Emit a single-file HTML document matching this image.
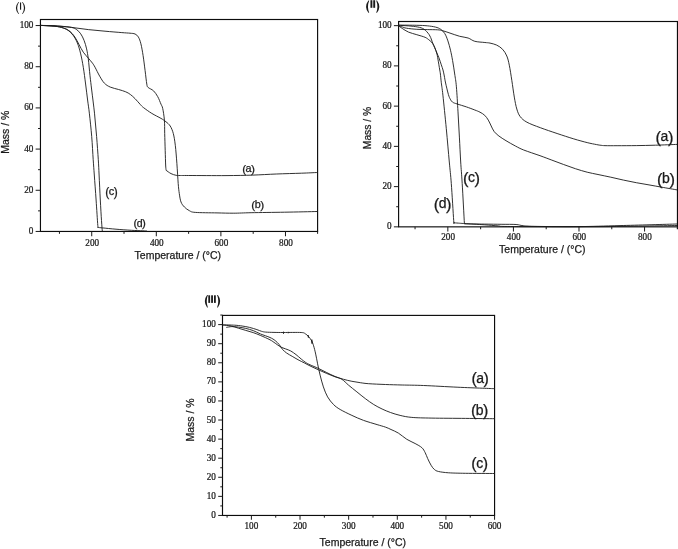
<!DOCTYPE html>
<html><head><meta charset="utf-8"><title>TGA</title>
<style>
html,body{margin:0;padding:0;background:#fff;}
body{width:678px;height:549px;overflow:hidden;font-family:"Liberation Sans", sans-serif;}
svg{display:block;will-change:transform;}
</style></head><body>
<svg width="678" height="549" viewBox="0 0 678 549">
<rect x="0" y="0" width="678" height="549" fill="#ffffff"/>
<rect x="40.45" y="19.50" width="277.15" height="211.95" fill="none" stroke="#0c0c0c" stroke-width="1.15"/>
<line x1="91.73" y1="231.45" x2="91.73" y2="236.25" stroke="#1a1a1a" stroke-width="1.0"/>
<text transform="translate(92.23 245.75) scale(0.93 1)" x="0" y="0" font-family='"Liberation Serif", serif' font-size="9.9" text-anchor="middle" font-weight="normal" fill="#1a1a1a" stroke="#1a1a1a" stroke-width="0.25" >200</text>
<line x1="156.31" y1="231.45" x2="156.31" y2="236.25" stroke="#1a1a1a" stroke-width="1.0"/>
<text transform="translate(156.81 245.75) scale(0.93 1)" x="0" y="0" font-family='"Liberation Serif", serif' font-size="9.9" text-anchor="middle" font-weight="normal" fill="#1a1a1a" stroke="#1a1a1a" stroke-width="0.25" >400</text>
<line x1="220.90" y1="231.45" x2="220.90" y2="236.25" stroke="#1a1a1a" stroke-width="1.0"/>
<text transform="translate(221.40 245.75) scale(0.93 1)" x="0" y="0" font-family='"Liberation Serif", serif' font-size="9.9" text-anchor="middle" font-weight="normal" fill="#1a1a1a" stroke="#1a1a1a" stroke-width="0.25" >600</text>
<line x1="285.48" y1="231.45" x2="285.48" y2="236.25" stroke="#1a1a1a" stroke-width="1.0"/>
<text transform="translate(285.98 245.75) scale(0.93 1)" x="0" y="0" font-family='"Liberation Serif", serif' font-size="9.9" text-anchor="middle" font-weight="normal" fill="#1a1a1a" stroke="#1a1a1a" stroke-width="0.25" >800</text>
<line x1="59.44" y1="231.45" x2="59.44" y2="233.85" stroke="#1a1a1a" stroke-width="1.0"/>
<line x1="124.02" y1="231.45" x2="124.02" y2="233.85" stroke="#1a1a1a" stroke-width="1.0"/>
<line x1="188.61" y1="231.45" x2="188.61" y2="233.85" stroke="#1a1a1a" stroke-width="1.0"/>
<line x1="253.19" y1="231.45" x2="253.19" y2="233.85" stroke="#1a1a1a" stroke-width="1.0"/>
<line x1="35.65" y1="231.45" x2="40.45" y2="231.45" stroke="#1a1a1a" stroke-width="1.0"/>
<text transform="translate(33.45 233.95) scale(0.93 1)" x="0" y="0" font-family='"Liberation Serif", serif' font-size="9.9" text-anchor="end" font-weight="normal" fill="#1a1a1a" stroke="#1a1a1a" stroke-width="0.25" >0</text>
<line x1="35.65" y1="190.27" x2="40.45" y2="190.27" stroke="#1a1a1a" stroke-width="1.0"/>
<text transform="translate(33.45 192.77) scale(0.93 1)" x="0" y="0" font-family='"Liberation Serif", serif' font-size="9.9" text-anchor="end" font-weight="normal" fill="#1a1a1a" stroke="#1a1a1a" stroke-width="0.25" >20</text>
<line x1="35.65" y1="149.09" x2="40.45" y2="149.09" stroke="#1a1a1a" stroke-width="1.0"/>
<text transform="translate(33.45 151.59) scale(0.93 1)" x="0" y="0" font-family='"Liberation Serif", serif' font-size="9.9" text-anchor="end" font-weight="normal" fill="#1a1a1a" stroke="#1a1a1a" stroke-width="0.25" >40</text>
<line x1="35.65" y1="107.91" x2="40.45" y2="107.91" stroke="#1a1a1a" stroke-width="1.0"/>
<text transform="translate(33.45 110.41) scale(0.93 1)" x="0" y="0" font-family='"Liberation Serif", serif' font-size="9.9" text-anchor="end" font-weight="normal" fill="#1a1a1a" stroke="#1a1a1a" stroke-width="0.25" >60</text>
<line x1="35.65" y1="66.73" x2="40.45" y2="66.73" stroke="#1a1a1a" stroke-width="1.0"/>
<text transform="translate(33.45 69.23) scale(0.93 1)" x="0" y="0" font-family='"Liberation Serif", serif' font-size="9.9" text-anchor="end" font-weight="normal" fill="#1a1a1a" stroke="#1a1a1a" stroke-width="0.25" >80</text>
<line x1="35.65" y1="25.55" x2="40.45" y2="25.55" stroke="#1a1a1a" stroke-width="1.0"/>
<text transform="translate(33.45 28.05) scale(0.93 1)" x="0" y="0" font-family='"Liberation Serif", serif' font-size="9.9" text-anchor="end" font-weight="normal" fill="#1a1a1a" stroke="#1a1a1a" stroke-width="0.25" >100</text>
<line x1="38.05" y1="210.86" x2="40.45" y2="210.86" stroke="#1a1a1a" stroke-width="1.0"/>
<line x1="38.05" y1="169.68" x2="40.45" y2="169.68" stroke="#1a1a1a" stroke-width="1.0"/>
<line x1="38.05" y1="128.50" x2="40.45" y2="128.50" stroke="#1a1a1a" stroke-width="1.0"/>
<line x1="38.05" y1="87.32" x2="40.45" y2="87.32" stroke="#1a1a1a" stroke-width="1.0"/>
<line x1="38.05" y1="46.14" x2="40.45" y2="46.14" stroke="#1a1a1a" stroke-width="1.0"/>
<line x1="317.60" y1="231.45" x2="317.60" y2="233.85" stroke="#1a1a1a" stroke-width="1.0"/>
<text x="177.80" y="259.10" font-family='"Liberation Sans", sans-serif' font-size="10.5" text-anchor="middle" font-weight="normal" fill="#1a1a1a" stroke="#1a1a1a" stroke-width="0.25" >Temperature / (°C)</text>
<text x="8.70" y="132.20" font-family='"Liberation Sans", sans-serif' font-size="10.5" text-anchor="middle" font-weight="normal" fill="#1a1a1a" stroke="#1a1a1a" stroke-width="0.25" transform="rotate(-90 8.7 132.2)">Mass / %</text>
<rect x="19.98" y="2.50" width="1.15" height="7.2" fill="#1a1a1a"/>
<path d="M18.40,1.90 Q13.40,7.95 18.40,14.00 L19.00,14.00 Q15.30,7.95 19.00,1.90 Z" fill="#1a1a1a"/>
<path d="M22.70,1.90 Q27.70,7.95 22.70,14.00 L22.10,14.00 Q25.80,7.95 22.10,1.90 Z" fill="#1a1a1a"/>
<rect x="398.60" y="21.50" width="278.85" height="205.35" fill="none" stroke="#0c0c0c" stroke-width="1.15"/>
<line x1="447.84" y1="226.85" x2="447.84" y2="231.55" stroke="#1a1a1a" stroke-width="1.0"/>
<text transform="translate(448.14 240.45) scale(0.93 1)" x="0" y="0" font-family='"Liberation Serif", serif' font-size="9.9" text-anchor="middle" font-weight="normal" fill="#1a1a1a" stroke="#1a1a1a" stroke-width="0.25" >200</text>
<line x1="513.42" y1="226.85" x2="513.42" y2="231.55" stroke="#1a1a1a" stroke-width="1.0"/>
<text transform="translate(513.72 240.45) scale(0.93 1)" x="0" y="0" font-family='"Liberation Serif", serif' font-size="9.9" text-anchor="middle" font-weight="normal" fill="#1a1a1a" stroke="#1a1a1a" stroke-width="0.25" >400</text>
<line x1="578.99" y1="226.85" x2="578.99" y2="231.55" stroke="#1a1a1a" stroke-width="1.0"/>
<text transform="translate(579.29 240.45) scale(0.93 1)" x="0" y="0" font-family='"Liberation Serif", serif' font-size="9.9" text-anchor="middle" font-weight="normal" fill="#1a1a1a" stroke="#1a1a1a" stroke-width="0.25" >600</text>
<line x1="644.57" y1="226.85" x2="644.57" y2="231.55" stroke="#1a1a1a" stroke-width="1.0"/>
<text transform="translate(644.87 240.45) scale(0.93 1)" x="0" y="0" font-family='"Liberation Serif", serif' font-size="9.9" text-anchor="middle" font-weight="normal" fill="#1a1a1a" stroke="#1a1a1a" stroke-width="0.25" >800</text>
<line x1="415.05" y1="226.85" x2="415.05" y2="229.25" stroke="#1a1a1a" stroke-width="1.0"/>
<line x1="480.63" y1="226.85" x2="480.63" y2="229.25" stroke="#1a1a1a" stroke-width="1.0"/>
<line x1="546.20" y1="226.85" x2="546.20" y2="229.25" stroke="#1a1a1a" stroke-width="1.0"/>
<line x1="611.78" y1="226.85" x2="611.78" y2="229.25" stroke="#1a1a1a" stroke-width="1.0"/>
<line x1="393.90" y1="226.85" x2="398.60" y2="226.85" stroke="#1a1a1a" stroke-width="1.0"/>
<text transform="translate(391.70 229.35) scale(0.93 1)" x="0" y="0" font-family='"Liberation Serif", serif' font-size="9.9" text-anchor="end" font-weight="normal" fill="#1a1a1a" stroke="#1a1a1a" stroke-width="0.25" >0</text>
<line x1="393.90" y1="186.61" x2="398.60" y2="186.61" stroke="#1a1a1a" stroke-width="1.0"/>
<text transform="translate(391.70 189.11) scale(0.93 1)" x="0" y="0" font-family='"Liberation Serif", serif' font-size="9.9" text-anchor="end" font-weight="normal" fill="#1a1a1a" stroke="#1a1a1a" stroke-width="0.25" >20</text>
<line x1="393.90" y1="146.37" x2="398.60" y2="146.37" stroke="#1a1a1a" stroke-width="1.0"/>
<text transform="translate(391.70 148.87) scale(0.93 1)" x="0" y="0" font-family='"Liberation Serif", serif' font-size="9.9" text-anchor="end" font-weight="normal" fill="#1a1a1a" stroke="#1a1a1a" stroke-width="0.25" >40</text>
<line x1="393.90" y1="106.13" x2="398.60" y2="106.13" stroke="#1a1a1a" stroke-width="1.0"/>
<text transform="translate(391.70 108.63) scale(0.93 1)" x="0" y="0" font-family='"Liberation Serif", serif' font-size="9.9" text-anchor="end" font-weight="normal" fill="#1a1a1a" stroke="#1a1a1a" stroke-width="0.25" >60</text>
<line x1="393.90" y1="65.89" x2="398.60" y2="65.89" stroke="#1a1a1a" stroke-width="1.0"/>
<text transform="translate(391.70 68.39) scale(0.93 1)" x="0" y="0" font-family='"Liberation Serif", serif' font-size="9.9" text-anchor="end" font-weight="normal" fill="#1a1a1a" stroke="#1a1a1a" stroke-width="0.25" >80</text>
<line x1="393.90" y1="25.65" x2="398.60" y2="25.65" stroke="#1a1a1a" stroke-width="1.0"/>
<text transform="translate(391.70 28.15) scale(0.93 1)" x="0" y="0" font-family='"Liberation Serif", serif' font-size="9.9" text-anchor="end" font-weight="normal" fill="#1a1a1a" stroke="#1a1a1a" stroke-width="0.25" >100</text>
<line x1="396.20" y1="206.73" x2="398.60" y2="206.73" stroke="#1a1a1a" stroke-width="1.0"/>
<line x1="396.20" y1="166.49" x2="398.60" y2="166.49" stroke="#1a1a1a" stroke-width="1.0"/>
<line x1="396.20" y1="126.25" x2="398.60" y2="126.25" stroke="#1a1a1a" stroke-width="1.0"/>
<line x1="396.20" y1="86.01" x2="398.60" y2="86.01" stroke="#1a1a1a" stroke-width="1.0"/>
<line x1="396.20" y1="45.77" x2="398.60" y2="45.77" stroke="#1a1a1a" stroke-width="1.0"/>
<line x1="677.45" y1="226.85" x2="677.45" y2="229.35" stroke="#1a1a1a" stroke-width="1.3"/>
<text x="542.30" y="253.40" font-family='"Liberation Sans", sans-serif' font-size="10.5" text-anchor="middle" font-weight="normal" fill="#1a1a1a" stroke="#1a1a1a" stroke-width="0.25" >Temperature / (°C)</text>
<text x="371.40" y="128.00" font-family='"Liberation Sans", sans-serif' font-size="10.3" text-anchor="middle" font-weight="normal" fill="#1a1a1a" stroke="#1a1a1a" stroke-width="0.25" transform="rotate(-90 371.4 128)">Mass / %</text>
<rect x="370.45" y="0.20" width="1.9" height="7.6" fill="#1a1a1a"/>
<rect x="373.25" y="0.20" width="1.9" height="7.6" fill="#1a1a1a"/>
<path d="M368.40,0.40 Q363.80,6.60 368.40,12.80 L369.20,12.80 Q366.80,6.60 369.20,0.40 Z" fill="#1a1a1a"/>
<path d="M377.00,0.40 Q381.60,6.60 377.00,12.80 L376.20,12.80 Q378.60,6.60 376.20,0.40 Z" fill="#1a1a1a"/>
<rect x="222.50" y="315.40" width="272.07" height="200.05" fill="none" stroke="#0c0c0c" stroke-width="1.15"/>
<line x1="251.40" y1="515.45" x2="251.40" y2="519.75" stroke="#1a1a1a" stroke-width="1.0"/>
<text transform="translate(251.40 528.75) scale(0.93 1)" x="0" y="0" font-family='"Liberation Serif", serif' font-size="9.9" text-anchor="middle" font-weight="normal" fill="#1a1a1a" stroke="#1a1a1a" stroke-width="0.25" >100</text>
<line x1="300.03" y1="515.45" x2="300.03" y2="519.75" stroke="#1a1a1a" stroke-width="1.0"/>
<text transform="translate(300.03 528.75) scale(0.93 1)" x="0" y="0" font-family='"Liberation Serif", serif' font-size="9.9" text-anchor="middle" font-weight="normal" fill="#1a1a1a" stroke="#1a1a1a" stroke-width="0.25" >200</text>
<line x1="348.67" y1="515.45" x2="348.67" y2="519.75" stroke="#1a1a1a" stroke-width="1.0"/>
<text transform="translate(348.67 528.75) scale(0.93 1)" x="0" y="0" font-family='"Liberation Serif", serif' font-size="9.9" text-anchor="middle" font-weight="normal" fill="#1a1a1a" stroke="#1a1a1a" stroke-width="0.25" >300</text>
<line x1="397.30" y1="515.45" x2="397.30" y2="519.75" stroke="#1a1a1a" stroke-width="1.0"/>
<text transform="translate(397.30 528.75) scale(0.93 1)" x="0" y="0" font-family='"Liberation Serif", serif' font-size="9.9" text-anchor="middle" font-weight="normal" fill="#1a1a1a" stroke="#1a1a1a" stroke-width="0.25" >400</text>
<line x1="445.94" y1="515.45" x2="445.94" y2="519.75" stroke="#1a1a1a" stroke-width="1.0"/>
<text transform="translate(445.94 528.75) scale(0.93 1)" x="0" y="0" font-family='"Liberation Serif", serif' font-size="9.9" text-anchor="middle" font-weight="normal" fill="#1a1a1a" stroke="#1a1a1a" stroke-width="0.25" >500</text>
<line x1="494.57" y1="515.45" x2="494.57" y2="519.75" stroke="#1a1a1a" stroke-width="1.0"/>
<text transform="translate(494.57 528.75) scale(0.93 1)" x="0" y="0" font-family='"Liberation Serif", serif' font-size="9.9" text-anchor="middle" font-weight="normal" fill="#1a1a1a" stroke="#1a1a1a" stroke-width="0.25" >600</text>
<line x1="227.08" y1="515.45" x2="227.08" y2="517.65" stroke="#1a1a1a" stroke-width="1.0"/>
<line x1="275.72" y1="515.45" x2="275.72" y2="517.65" stroke="#1a1a1a" stroke-width="1.0"/>
<line x1="324.35" y1="515.45" x2="324.35" y2="517.65" stroke="#1a1a1a" stroke-width="1.0"/>
<line x1="372.99" y1="515.45" x2="372.99" y2="517.65" stroke="#1a1a1a" stroke-width="1.0"/>
<line x1="421.62" y1="515.45" x2="421.62" y2="517.65" stroke="#1a1a1a" stroke-width="1.0"/>
<line x1="470.25" y1="515.45" x2="470.25" y2="517.65" stroke="#1a1a1a" stroke-width="1.0"/>
<line x1="218.20" y1="515.45" x2="222.50" y2="515.45" stroke="#1a1a1a" stroke-width="1.0"/>
<text transform="translate(215.90 517.95) scale(0.93 1)" x="0" y="0" font-family='"Liberation Serif", serif' font-size="9.9" text-anchor="end" font-weight="normal" fill="#1a1a1a" stroke="#1a1a1a" stroke-width="0.25" >0</text>
<line x1="218.20" y1="496.37" x2="222.50" y2="496.37" stroke="#1a1a1a" stroke-width="1.0"/>
<text transform="translate(215.90 498.87) scale(0.93 1)" x="0" y="0" font-family='"Liberation Serif", serif' font-size="9.9" text-anchor="end" font-weight="normal" fill="#1a1a1a" stroke="#1a1a1a" stroke-width="0.25" >10</text>
<line x1="218.20" y1="477.28" x2="222.50" y2="477.28" stroke="#1a1a1a" stroke-width="1.0"/>
<text transform="translate(215.90 479.78) scale(0.93 1)" x="0" y="0" font-family='"Liberation Serif", serif' font-size="9.9" text-anchor="end" font-weight="normal" fill="#1a1a1a" stroke="#1a1a1a" stroke-width="0.25" >20</text>
<line x1="218.20" y1="458.20" x2="222.50" y2="458.20" stroke="#1a1a1a" stroke-width="1.0"/>
<text transform="translate(215.90 460.70) scale(0.93 1)" x="0" y="0" font-family='"Liberation Serif", serif' font-size="9.9" text-anchor="end" font-weight="normal" fill="#1a1a1a" stroke="#1a1a1a" stroke-width="0.25" >30</text>
<line x1="218.20" y1="439.11" x2="222.50" y2="439.11" stroke="#1a1a1a" stroke-width="1.0"/>
<text transform="translate(215.90 441.61) scale(0.93 1)" x="0" y="0" font-family='"Liberation Serif", serif' font-size="9.9" text-anchor="end" font-weight="normal" fill="#1a1a1a" stroke="#1a1a1a" stroke-width="0.25" >40</text>
<line x1="218.20" y1="420.03" x2="222.50" y2="420.03" stroke="#1a1a1a" stroke-width="1.0"/>
<text transform="translate(215.90 422.53) scale(0.93 1)" x="0" y="0" font-family='"Liberation Serif", serif' font-size="9.9" text-anchor="end" font-weight="normal" fill="#1a1a1a" stroke="#1a1a1a" stroke-width="0.25" >50</text>
<line x1="218.20" y1="400.94" x2="222.50" y2="400.94" stroke="#1a1a1a" stroke-width="1.0"/>
<text transform="translate(215.90 403.44) scale(0.93 1)" x="0" y="0" font-family='"Liberation Serif", serif' font-size="9.9" text-anchor="end" font-weight="normal" fill="#1a1a1a" stroke="#1a1a1a" stroke-width="0.25" >60</text>
<line x1="218.20" y1="381.86" x2="222.50" y2="381.86" stroke="#1a1a1a" stroke-width="1.0"/>
<text transform="translate(215.90 384.36) scale(0.93 1)" x="0" y="0" font-family='"Liberation Serif", serif' font-size="9.9" text-anchor="end" font-weight="normal" fill="#1a1a1a" stroke="#1a1a1a" stroke-width="0.25" >70</text>
<line x1="218.20" y1="362.77" x2="222.50" y2="362.77" stroke="#1a1a1a" stroke-width="1.0"/>
<text transform="translate(215.90 365.27) scale(0.93 1)" x="0" y="0" font-family='"Liberation Serif", serif' font-size="9.9" text-anchor="end" font-weight="normal" fill="#1a1a1a" stroke="#1a1a1a" stroke-width="0.25" >80</text>
<line x1="218.20" y1="343.69" x2="222.50" y2="343.69" stroke="#1a1a1a" stroke-width="1.0"/>
<text transform="translate(215.90 346.19) scale(0.93 1)" x="0" y="0" font-family='"Liberation Serif", serif' font-size="9.9" text-anchor="end" font-weight="normal" fill="#1a1a1a" stroke="#1a1a1a" stroke-width="0.25" >90</text>
<line x1="218.20" y1="324.60" x2="222.50" y2="324.60" stroke="#1a1a1a" stroke-width="1.0"/>
<text transform="translate(215.90 327.10) scale(0.93 1)" x="0" y="0" font-family='"Liberation Serif", serif' font-size="9.9" text-anchor="end" font-weight="normal" fill="#1a1a1a" stroke="#1a1a1a" stroke-width="0.25" >100</text>
<line x1="220.30" y1="505.91" x2="222.50" y2="505.91" stroke="#1a1a1a" stroke-width="1.0"/>
<line x1="220.30" y1="486.82" x2="222.50" y2="486.82" stroke="#1a1a1a" stroke-width="1.0"/>
<line x1="220.30" y1="467.74" x2="222.50" y2="467.74" stroke="#1a1a1a" stroke-width="1.0"/>
<line x1="220.30" y1="448.65" x2="222.50" y2="448.65" stroke="#1a1a1a" stroke-width="1.0"/>
<line x1="220.30" y1="429.57" x2="222.50" y2="429.57" stroke="#1a1a1a" stroke-width="1.0"/>
<line x1="220.30" y1="410.48" x2="222.50" y2="410.48" stroke="#1a1a1a" stroke-width="1.0"/>
<line x1="220.30" y1="391.40" x2="222.50" y2="391.40" stroke="#1a1a1a" stroke-width="1.0"/>
<line x1="220.30" y1="372.31" x2="222.50" y2="372.31" stroke="#1a1a1a" stroke-width="1.0"/>
<line x1="220.30" y1="353.23" x2="222.50" y2="353.23" stroke="#1a1a1a" stroke-width="1.0"/>
<line x1="220.30" y1="334.14" x2="222.50" y2="334.14" stroke="#1a1a1a" stroke-width="1.0"/>
<line x1="220.30" y1="315.06" x2="222.50" y2="315.06" stroke="#1a1a1a" stroke-width="1.0"/>
<text x="362.85" y="545.50" font-family='"Liberation Sans", sans-serif' font-size="10.5" text-anchor="middle" font-weight="normal" fill="#1a1a1a" stroke="#1a1a1a" stroke-width="0.25" >Temperature / (°C)</text>
<text x="193.80" y="420.00" font-family='"Liberation Sans", sans-serif' font-size="10.5" text-anchor="middle" font-weight="normal" fill="#1a1a1a" stroke="#1a1a1a" stroke-width="0.25" transform="rotate(-90 193.8 420)">Mass / %</text>
<rect x="208.30" y="295.30" width="1.8" height="7.6" fill="#1a1a1a"/>
<rect x="211.15" y="295.30" width="1.8" height="7.6" fill="#1a1a1a"/>
<rect x="214.00" y="295.30" width="1.8" height="7.6" fill="#1a1a1a"/>
<path d="M207.10,295.10 Q202.50,301.30 207.10,307.50 L207.90,307.50 Q205.50,301.30 207.90,295.10 Z" fill="#1a1a1a"/>
<path d="M217.90,295.10 Q222.50,301.30 217.90,307.50 L217.10,307.50 Q219.50,301.30 217.10,295.10 Z" fill="#1a1a1a"/>
<path d="M40.50,25.40 C42.92,25.47 49.83,25.47 55.00,25.80 C60.17,26.13 65.95,26.77 71.50,27.40 C77.05,28.03 82.72,28.97 88.30,29.60 C93.88,30.23 99.42,30.70 105.00,31.20 C110.58,31.70 117.63,32.27 121.80,32.60 C125.97,32.93 127.80,32.97 130.00,33.20 C132.20,33.43 133.60,33.35 135.00,34.00 C136.40,34.65 137.42,35.47 138.40,37.10 C139.38,38.73 140.12,40.72 140.90,43.80 C141.68,46.88 142.40,51.13 143.10,55.60 C143.80,60.07 144.48,65.85 145.10,70.60 C145.72,75.35 146.30,81.30 146.80,84.10 C147.30,86.90 146.98,86.28 148.10,87.40 C149.22,88.52 151.90,89.27 153.50,90.80 C155.10,92.33 156.45,94.37 157.70,96.60 C158.95,98.83 160.17,102.23 161.00,104.20 C161.83,106.17 162.13,105.75 162.70,108.40 C163.27,111.05 164.07,115.92 164.40,120.10 C164.73,124.28 164.57,128.47 164.70,133.50 C164.83,138.53 165.04,145.05 165.20,150.30 C165.36,155.55 165.50,161.67 165.65,165.00 C165.80,168.33 166.03,169.42 166.10,170.30 C166.92,170.85 169.37,172.78 171.00,173.60 C172.63,174.42 174.40,174.93 175.90,175.25 C177.40,175.57 177.87,175.46 180.00,175.50 C182.13,175.54 181.03,175.48 188.70,175.50 C196.37,175.52 215.32,175.67 226.00,175.60 C236.68,175.53 244.42,175.37 252.80,175.10 C261.18,174.83 268.20,174.32 276.30,174.00 C284.40,173.68 294.55,173.45 301.40,173.20 C308.25,172.95 314.73,172.62 317.40,172.50" fill="none" stroke="#1a1a1a" stroke-width="0.9" stroke-linejoin="round" stroke-linecap="butt"/>
<path d="M40.50,25.40 C42.88,25.53 51.03,25.78 54.80,26.20 C58.57,26.62 60.60,27.07 63.10,27.90 C65.60,28.73 67.83,29.67 69.80,31.20 C71.77,32.73 73.35,34.85 74.90,37.10 C76.45,39.35 77.70,42.18 79.10,44.70 C80.50,47.22 81.77,49.97 83.30,52.20 C84.83,54.43 86.77,56.27 88.30,58.10 C89.83,59.93 91.38,61.68 92.50,63.20 C93.62,64.72 93.80,65.03 95.00,67.20 C96.20,69.37 98.13,73.53 99.70,76.20 C101.27,78.87 102.63,81.38 104.40,83.20 C106.17,85.02 107.93,86.05 110.30,87.10 C112.67,88.15 116.03,88.72 118.60,89.50 C121.17,90.28 123.73,90.97 125.70,91.80 C127.67,92.63 128.83,93.35 130.40,94.50 C131.97,95.65 133.43,97.02 135.10,98.70 C136.77,100.38 139.00,103.12 140.40,104.60 C141.80,106.08 141.60,106.13 143.50,107.60 C145.40,109.07 148.88,111.60 151.80,113.40 C154.72,115.20 158.63,117.00 161.00,118.40 C163.37,119.80 164.47,120.53 166.00,121.80 C167.53,123.07 168.98,124.05 170.20,126.00 C171.42,127.95 172.45,130.28 173.30,133.50 C174.15,136.72 174.70,140.27 175.30,145.30 C175.90,150.33 176.42,157.33 176.90,163.70 C177.38,170.07 177.80,178.52 178.20,183.50 C178.60,188.48 178.83,190.52 179.30,193.60 C179.77,196.68 180.15,199.77 181.00,202.00 C181.85,204.23 183.00,205.55 184.40,207.00 C185.80,208.45 187.58,209.80 189.40,210.70 C191.22,211.60 190.70,212.03 195.30,212.40 C199.90,212.77 210.58,212.77 217.00,212.90 C223.42,213.03 228.12,213.23 233.80,213.20 C239.48,213.17 242.62,212.87 251.10,212.70 C259.58,212.53 273.65,212.40 284.70,212.20 C295.75,212.00 311.95,211.62 317.40,211.50" fill="none" stroke="#1a1a1a" stroke-width="0.9" stroke-linejoin="round" stroke-linecap="butt"/>
<path d="M40.50,25.40 C43.75,25.53 54.83,25.87 60.00,26.20 C65.17,26.53 68.73,26.83 71.50,27.40 C74.27,27.97 75.07,28.53 76.60,29.60 C78.13,30.67 79.45,31.98 80.70,33.80 C81.95,35.62 83.12,37.98 84.10,40.50 C85.08,43.02 85.90,45.83 86.60,48.90 C87.30,51.97 87.73,54.43 88.30,58.90 C88.87,63.37 89.43,70.52 90.00,75.70 C90.57,80.88 90.95,83.75 91.70,90.00 C92.45,96.25 93.68,105.47 94.50,113.20 C95.32,120.93 95.97,128.65 96.60,136.40 C97.23,144.15 97.88,153.27 98.30,159.70 C98.72,166.13 98.77,168.28 99.10,175.00 C99.43,181.72 99.90,192.40 100.30,200.00 C100.70,207.60 101.17,215.43 101.50,220.60 C101.83,225.77 102.17,229.27 102.30,231.00" fill="none" stroke="#1a1a1a" stroke-width="0.9" stroke-linejoin="round" stroke-linecap="butt"/>
<path d="M40.50,25.40 C42.88,25.53 51.03,25.78 54.80,26.20 C58.57,26.62 60.87,27.20 63.10,27.90 C65.33,28.60 66.52,29.15 68.20,30.40 C69.88,31.65 71.67,33.30 73.20,35.40 C74.73,37.50 76.15,39.92 77.40,43.00 C78.65,46.08 79.72,49.85 80.70,53.90 C81.68,57.95 82.48,62.28 83.30,67.30 C84.12,72.32 84.88,78.55 85.60,84.00 C86.32,89.45 86.97,95.13 87.60,100.00 C88.22,104.87 88.67,107.13 89.35,113.20 C90.03,119.27 91.06,128.65 91.70,136.40 C92.34,144.15 92.77,153.27 93.20,159.70 C93.63,166.13 93.82,168.28 94.30,175.00 C94.78,181.72 95.52,191.58 96.10,200.00 C96.68,208.42 97.45,221.00 97.80,225.50 C98.15,230.00 97.97,226.66 98.20,227.00 C98.43,227.34 98.47,227.40 99.20,227.55 C99.93,227.70 99.80,227.62 102.60,227.90 C105.40,228.18 111.18,228.80 116.00,229.20 C120.82,229.60 127.03,230.03 131.50,230.30 C135.97,230.57 140.22,230.68 142.80,230.80 C145.38,230.92 146.30,230.97 147.00,231.00" fill="none" stroke="#1a1a1a" stroke-width="0.9" stroke-linejoin="round" stroke-linecap="butt"/>
<text x="248.60" y="171.60" font-family='"Liberation Sans", sans-serif' font-size="10.8" text-anchor="middle" font-weight="normal" fill="#1a1a1a" stroke="#1a1a1a" stroke-width="0.25" >a</text>
<text x="246.10" y="172.50" font-family='"Liberation Sans", sans-serif' font-size="11.8" text-anchor="end" font-weight="normal" fill="#1a1a1a" stroke="#1a1a1a" stroke-width="0.25" >(</text>
<text x="251.10" y="172.50" font-family='"Liberation Sans", sans-serif' font-size="11.8" text-anchor="start" font-weight="normal" fill="#1a1a1a" stroke="#1a1a1a" stroke-width="0.25" >)</text>
<text x="257.70" y="208.00" font-family='"Liberation Sans", sans-serif' font-size="10.8" text-anchor="middle" font-weight="normal" fill="#1a1a1a" stroke="#1a1a1a" stroke-width="0.25" >b</text>
<text x="255.10" y="208.90" font-family='"Liberation Sans", sans-serif' font-size="11.8" text-anchor="end" font-weight="normal" fill="#1a1a1a" stroke="#1a1a1a" stroke-width="0.25" >(</text>
<text x="260.30" y="208.90" font-family='"Liberation Sans", sans-serif' font-size="11.8" text-anchor="start" font-weight="normal" fill="#1a1a1a" stroke="#1a1a1a" stroke-width="0.25" >)</text>
<text x="111.40" y="194.90" font-family='"Liberation Sans", sans-serif' font-size="11" text-anchor="middle" font-weight="normal" fill="#1a1a1a" stroke="#1a1a1a" stroke-width="0.25" >c</text>
<text x="109.15" y="195.80" font-family='"Liberation Sans", sans-serif' font-size="12" text-anchor="end" font-weight="normal" fill="#1a1a1a" stroke="#1a1a1a" stroke-width="0.25" >(</text>
<text x="113.65" y="195.80" font-family='"Liberation Sans", sans-serif' font-size="12" text-anchor="start" font-weight="normal" fill="#1a1a1a" stroke="#1a1a1a" stroke-width="0.25" >)</text>
<text x="139.60" y="226.50" font-family='"Liberation Sans", sans-serif' font-size="10.5" text-anchor="middle" font-weight="normal" fill="#1a1a1a" stroke="#1a1a1a" stroke-width="0.25" >d</text>
<text x="137.28" y="227.40" font-family='"Liberation Sans", sans-serif' font-size="11.5" text-anchor="end" font-weight="normal" fill="#1a1a1a" stroke="#1a1a1a" stroke-width="0.25" >(</text>
<text x="141.92" y="227.40" font-family='"Liberation Sans", sans-serif' font-size="11.5" text-anchor="start" font-weight="normal" fill="#1a1a1a" stroke="#1a1a1a" stroke-width="0.25" >)</text>
<path d="M398.60,25.80 C399.20,25.98 400.90,26.50 402.20,26.90 C403.50,27.30 403.97,27.80 406.40,28.20 C408.83,28.60 413.33,29.07 416.80,29.30 C420.27,29.53 423.75,29.52 427.20,29.60 C430.65,29.68 434.92,29.62 437.50,29.80 C440.08,29.98 440.62,30.15 442.70,30.70 C444.78,31.25 447.17,32.17 450.00,33.10 C452.83,34.03 456.68,35.48 459.70,36.30 C462.72,37.12 465.58,37.17 468.10,38.00 C470.62,38.83 472.00,40.55 474.80,41.30 C477.60,42.05 482.37,42.20 484.90,42.50 C487.43,42.80 488.03,42.67 490.00,43.10 C491.97,43.53 494.60,44.07 496.70,45.10 C498.80,46.13 500.92,47.48 502.60,49.30 C504.28,51.12 505.68,53.35 506.80,56.00 C507.92,58.65 508.47,61.15 509.30,65.20 C510.13,69.25 510.97,74.98 511.80,80.30 C512.63,85.62 513.47,92.32 514.30,97.10 C515.13,101.88 515.82,105.75 516.80,109.00 C517.78,112.25 518.52,114.40 520.20,116.60 C521.88,118.80 523.55,120.35 526.90,122.20 C530.25,124.05 535.27,125.82 540.30,127.70 C545.33,129.58 551.52,131.63 557.10,133.50 C562.68,135.37 568.78,137.38 573.80,138.90 C578.82,140.42 583.40,141.65 587.20,142.60 C591.00,143.55 594.30,144.15 596.60,144.60 C598.90,145.05 599.60,145.12 601.00,145.30 C602.40,145.48 602.32,145.58 605.00,145.65 C607.68,145.72 611.88,145.71 617.10,145.70 C622.32,145.69 629.92,145.68 636.30,145.60 C642.68,145.52 648.60,145.40 655.40,145.20 C662.20,145.00 673.48,144.53 677.10,144.40" fill="none" stroke="#1a1a1a" stroke-width="0.9" stroke-linejoin="round" stroke-linecap="butt"/>
<path d="M398.60,25.80 C399.20,26.23 400.55,27.35 402.20,28.40 C403.85,29.45 406.07,31.05 408.50,32.10 C410.93,33.15 414.03,33.83 416.80,34.70 C419.57,35.57 423.05,36.42 425.10,37.30 C427.15,38.18 428.12,39.27 429.10,40.00 C430.08,40.73 430.38,41.10 431.00,41.70 C431.62,42.30 432.17,42.60 432.80,43.60 C433.43,44.60 434.12,46.13 434.80,47.70 C435.48,49.27 436.22,51.33 436.90,53.00 C437.58,54.67 438.17,55.73 438.90,57.70 C439.63,59.67 440.62,62.75 441.30,64.80 C441.98,66.85 442.50,68.13 443.00,70.00 C443.50,71.87 443.87,73.83 444.30,76.00 C444.73,78.17 444.92,79.92 445.60,83.00 C446.28,86.08 447.62,91.80 448.40,94.50 C449.18,97.20 449.60,97.92 450.30,99.20 C451.00,100.48 451.47,101.41 452.60,102.20 C453.73,102.99 454.80,103.17 457.10,103.95 C459.40,104.73 463.45,105.89 466.40,106.90 C469.35,107.91 472.53,109.12 474.80,110.00 C477.07,110.88 478.35,111.32 480.00,112.20 C481.65,113.08 483.32,113.98 484.70,115.30 C486.08,116.62 487.22,118.32 488.30,120.10 C489.38,121.88 490.22,124.08 491.20,126.00 C492.18,127.92 492.92,129.93 494.20,131.60 C495.48,133.27 496.93,134.48 498.90,136.00 C500.87,137.52 503.25,139.03 506.00,140.70 C508.75,142.37 512.45,144.45 515.40,146.00 C518.35,147.55 519.60,148.38 523.70,150.00 C527.80,151.62 535.32,154.02 540.00,155.70 C544.68,157.38 547.87,158.63 551.80,160.10 C555.73,161.57 559.67,163.07 563.60,164.50 C567.53,165.93 571.47,167.42 575.40,168.70 C579.33,169.98 583.43,171.23 587.20,172.20 C590.97,173.17 594.07,173.67 598.00,174.50 C601.93,175.33 606.55,176.27 610.80,177.20 C615.05,178.13 619.25,179.18 623.50,180.10 C627.75,181.02 632.05,181.90 636.30,182.70 C640.55,183.50 644.75,184.15 649.00,184.90 C653.25,185.65 657.12,186.37 661.80,187.20 C666.48,188.03 674.55,189.45 677.10,189.90" fill="none" stroke="#1a1a1a" stroke-width="0.9" stroke-linejoin="round" stroke-linecap="butt"/>
<path d="M398.60,25.10 C401.63,25.13 412.03,25.18 416.80,25.30 C421.57,25.42 424.08,25.50 427.20,25.80 C430.32,26.10 433.25,26.52 435.50,27.10 C437.75,27.68 439.15,28.22 440.70,29.30 C442.25,30.38 443.60,31.67 444.80,33.60 C446.00,35.53 446.95,38.13 447.90,40.90 C448.85,43.67 449.72,46.92 450.50,50.20 C451.28,53.48 451.90,56.63 452.60,60.60 C453.30,64.57 454.07,69.63 454.70,74.00 C455.33,78.37 455.85,80.48 456.40,86.80 C456.95,93.12 457.50,103.52 458.00,111.90 C458.50,120.28 458.95,128.75 459.40,137.10 C459.85,145.45 460.23,154.27 460.70,162.00 C461.17,169.73 461.58,173.20 462.20,183.50 C462.82,193.80 464.03,217.08 464.40,223.80 C467.70,223.85 477.95,224.02 484.20,224.10 C490.45,224.18 496.58,224.23 501.90,224.30 C507.22,224.37 512.55,224.27 516.10,224.50 C519.65,224.73 519.67,225.38 523.20,225.70 C526.73,226.02 528.00,226.25 537.30,226.40 C546.60,226.55 565.22,226.73 579.00,226.60 C592.78,226.47 603.67,226.03 620.00,225.60 C636.33,225.17 667.50,224.27 677.00,224.00" fill="none" stroke="#1a1a1a" stroke-width="0.9" stroke-linejoin="round" stroke-linecap="butt"/>
<path d="M398.60,25.30 C400.25,25.40 405.30,25.62 408.50,25.90 C411.70,26.18 415.22,26.45 417.80,27.00 C420.38,27.55 422.10,27.92 424.00,29.20 C425.90,30.48 427.93,32.90 429.20,34.70 C430.47,36.50 431.00,38.53 431.60,40.00 C432.20,41.47 432.28,42.22 432.80,43.50 C433.32,44.78 434.05,46.12 434.70,47.70 C435.35,49.28 436.20,51.33 436.70,53.00 C437.20,54.67 437.33,55.73 437.70,57.70 C438.07,59.67 438.56,62.75 438.90,64.80 C439.24,66.85 439.50,68.47 439.75,70.00 C440.00,71.53 440.14,71.88 440.40,74.00 C440.66,76.12 440.88,79.18 441.30,82.70 C441.72,86.22 442.07,87.43 442.90,95.10 C443.73,102.77 445.23,117.55 446.30,128.70 C447.37,139.85 448.47,152.87 449.30,162.00 C450.13,171.13 450.57,173.75 451.30,183.50 C452.03,193.25 453.23,214.05 453.70,220.50 C454.17,226.95 453.90,221.81 454.15,222.20 C454.40,222.59 454.56,222.70 455.20,222.85 C455.84,223.00 456.40,222.97 458.00,223.10 C459.60,223.22 460.43,223.32 464.80,223.60 C469.17,223.88 478.60,224.42 484.20,224.80 C489.80,225.18 493.97,225.62 498.40,225.90 C502.83,226.18 493.87,226.38 510.80,226.50 C527.73,226.62 572.30,226.77 600.00,226.60 C627.70,226.43 664.17,225.68 677.00,225.50" fill="none" stroke="#1a1a1a" stroke-width="0.9" stroke-linejoin="round" stroke-linecap="butt"/>
<text x="664.50" y="141.30" font-family='"Liberation Sans", sans-serif' font-size="14" text-anchor="middle" font-weight="normal" fill="#1a1a1a" stroke="#1a1a1a" stroke-width="0.25" >a</text>
<text x="661.11" y="143.30" font-family='"Liberation Sans", sans-serif' font-size="16.5" text-anchor="end" font-weight="normal" fill="#1a1a1a" stroke="#1a1a1a" stroke-width="0.25" >(</text>
<text x="667.89" y="143.30" font-family='"Liberation Sans", sans-serif' font-size="16.5" text-anchor="start" font-weight="normal" fill="#1a1a1a" stroke="#1a1a1a" stroke-width="0.25" >)</text>
<text x="666.00" y="182.70" font-family='"Liberation Sans", sans-serif' font-size="14" text-anchor="middle" font-weight="normal" fill="#1a1a1a" stroke="#1a1a1a" stroke-width="0.25" >b</text>
<text x="662.61" y="184.70" font-family='"Liberation Sans", sans-serif' font-size="16.5" text-anchor="end" font-weight="normal" fill="#1a1a1a" stroke="#1a1a1a" stroke-width="0.25" >(</text>
<text x="669.39" y="184.70" font-family='"Liberation Sans", sans-serif' font-size="16.5" text-anchor="start" font-weight="normal" fill="#1a1a1a" stroke="#1a1a1a" stroke-width="0.25" >)</text>
<text x="471.60" y="181.60" font-family='"Liberation Sans", sans-serif' font-size="14" text-anchor="middle" font-weight="normal" fill="#1a1a1a" stroke="#1a1a1a" stroke-width="0.25" >c</text>
<text x="468.60" y="183.60" font-family='"Liberation Sans", sans-serif' font-size="16.5" text-anchor="end" font-weight="normal" fill="#1a1a1a" stroke="#1a1a1a" stroke-width="0.25" >(</text>
<text x="474.60" y="183.60" font-family='"Liberation Sans", sans-serif' font-size="16.5" text-anchor="start" font-weight="normal" fill="#1a1a1a" stroke="#1a1a1a" stroke-width="0.25" >)</text>
<text x="442.60" y="207.70" font-family='"Liberation Sans", sans-serif' font-size="14" text-anchor="middle" font-weight="normal" fill="#1a1a1a" stroke="#1a1a1a" stroke-width="0.25" >d</text>
<text x="439.21" y="209.70" font-family='"Liberation Sans", sans-serif' font-size="16.5" text-anchor="end" font-weight="normal" fill="#1a1a1a" stroke="#1a1a1a" stroke-width="0.25" >(</text>
<text x="445.99" y="209.70" font-family='"Liberation Sans", sans-serif' font-size="16.5" text-anchor="start" font-weight="normal" fill="#1a1a1a" stroke="#1a1a1a" stroke-width="0.25" >)</text>
<path d="M222.60,325.00 C224.02,325.17 228.47,325.47 231.10,326.00 C233.73,326.53 235.95,327.47 238.40,328.20 C240.85,328.93 243.33,329.67 245.80,330.40 C248.27,331.13 250.73,331.75 253.20,332.60 C255.67,333.45 257.80,334.30 260.60,335.50 C263.40,336.70 267.57,338.52 270.00,339.80 C272.43,341.08 273.47,342.03 275.20,343.20 C276.93,344.37 278.67,345.85 280.40,346.80 C282.13,347.75 283.87,348.20 285.60,348.90 C287.33,349.60 289.07,350.05 290.80,351.00 C292.53,351.95 294.27,353.27 296.00,354.60 C297.73,355.93 299.65,357.73 301.20,359.00 C302.75,360.27 303.83,361.23 305.30,362.20 C306.77,363.17 307.82,363.77 310.00,364.80 C312.18,365.83 315.60,367.10 318.40,368.40 C321.20,369.70 324.02,371.25 326.80,372.60 C329.58,373.95 332.32,375.38 335.10,376.50 C337.88,377.62 340.70,378.50 343.50,379.30 C346.30,380.10 349.10,380.73 351.90,381.30 C354.70,381.87 357.50,382.30 360.30,382.70 C363.10,383.10 364.52,383.40 368.70,383.70 C372.88,384.00 379.82,384.28 385.40,384.50 C390.98,384.72 395.85,384.83 402.20,385.00 C408.55,385.17 414.35,385.13 423.50,385.50 C432.65,385.87 447.32,386.75 457.10,387.20 C466.88,387.65 475.92,387.95 482.20,388.20 C488.48,388.45 492.70,388.62 494.80,388.70" fill="none" stroke="#1a1a1a" stroke-width="0.9" stroke-linejoin="round" stroke-linecap="butt"/>
<path d="M226.30,327.40 C227.22,327.27 229.78,326.65 231.80,326.60 C233.82,326.55 236.07,326.80 238.40,327.10 C240.73,327.40 243.33,327.82 245.80,328.40 C248.27,328.98 250.73,329.67 253.20,330.60 C255.67,331.53 257.80,332.85 260.60,334.00 C263.40,335.15 267.57,336.40 270.00,337.50 C272.43,338.60 273.65,339.40 275.20,340.60 C276.75,341.80 278.08,343.23 279.30,344.70 C280.52,346.17 281.28,348.02 282.50,349.40 C283.72,350.78 284.88,351.78 286.60,353.00 C288.32,354.22 290.72,355.48 292.80,356.70 C294.88,357.92 297.18,359.27 299.10,360.30 C301.02,361.33 302.48,361.97 304.30,362.90 C306.12,363.83 307.65,364.75 310.00,365.90 C312.35,367.05 315.60,368.53 318.40,369.80 C321.20,371.07 324.02,372.33 326.80,373.50 C329.58,374.67 332.58,375.83 335.10,376.80 C337.62,377.77 339.65,377.90 341.90,379.30 C344.15,380.70 346.10,383.10 348.60,385.20 C351.10,387.30 354.12,389.67 356.90,391.90 C359.68,394.13 362.50,396.50 365.30,398.60 C368.10,400.70 370.90,402.77 373.70,404.50 C376.50,406.23 379.30,407.67 382.10,409.00 C384.90,410.33 387.50,411.43 390.50,412.50 C393.50,413.57 396.55,414.58 400.10,415.40 C403.65,416.22 406.50,416.95 411.80,417.40 C417.10,417.85 422.97,417.93 431.90,418.10 C440.83,418.27 454.92,418.30 465.40,418.40 C475.88,418.50 489.90,418.65 494.80,418.70" fill="none" stroke="#1a1a1a" stroke-width="0.9" stroke-linejoin="round" stroke-linecap="butt"/>
<path d="M222.60,324.80 C224.62,324.87 231.45,325.00 234.70,325.20 C237.95,325.40 239.63,325.63 242.10,326.00 C244.57,326.37 247.03,326.80 249.50,327.40 C251.97,328.00 254.90,328.95 256.90,329.60 C258.90,330.25 260.03,330.88 261.50,331.30 C262.97,331.72 263.62,331.92 265.70,332.10 C267.78,332.28 271.03,332.33 274.00,332.40 C276.97,332.47 278.97,332.48 283.50,332.50 C288.03,332.52 297.57,332.28 301.20,332.50 C304.83,332.72 304.10,333.15 305.30,333.80 C306.50,334.45 307.37,335.27 308.40,336.40 C309.43,337.53 310.63,339.03 311.50,340.60 C312.37,342.17 312.90,343.55 313.60,345.80 C314.30,348.05 315.03,351.10 315.70,354.10 C316.37,357.10 316.87,360.30 317.60,363.80 C318.33,367.30 319.13,371.25 320.10,375.10 C321.07,378.95 322.15,383.27 323.40,386.90 C324.65,390.53 325.92,393.97 327.60,396.90 C329.28,399.83 331.40,402.40 333.50,404.50 C335.60,406.60 337.13,407.68 340.20,409.50 C343.27,411.32 348.00,413.58 351.90,415.40 C355.80,417.22 359.40,418.87 363.60,420.40 C367.80,421.93 373.47,423.48 377.10,424.60 C380.73,425.72 383.08,426.28 385.40,427.10 C387.72,427.92 388.83,428.50 391.00,429.50 C393.17,430.50 395.77,431.47 398.40,433.10 C401.03,434.73 404.02,437.57 406.80,439.30 C409.58,441.03 412.58,442.10 415.10,443.50 C417.62,444.90 420.22,446.17 421.90,447.70 C423.58,449.23 424.23,450.88 425.20,452.70 C426.17,454.52 426.72,456.50 427.70,458.60 C428.68,460.70 429.98,463.48 431.10,465.30 C432.22,467.12 433.15,468.47 434.40,469.50 C435.65,470.53 436.22,470.95 438.60,471.50 C440.98,472.05 444.23,472.50 448.70,472.80 C453.17,473.10 457.72,473.18 465.40,473.30 C473.08,473.42 489.90,473.47 494.80,473.50" fill="none" stroke="#1a1a1a" stroke-width="0.9" stroke-linejoin="round" stroke-linecap="butt"/>
<line x1="283.50" y1="331.60" x2="283.50" y2="333.90" stroke="#1a1a1a" stroke-width="0.9"/>
<line x1="288.20" y1="331.80" x2="288.20" y2="333.40" stroke="#1a1a1a" stroke-width="0.7"/>
<line x1="308.00" y1="335.20" x2="308.60" y2="337.60" stroke="#1a1a1a" stroke-width="1.3"/>
<line x1="311.70" y1="339.60" x2="312.10" y2="343.60" stroke="#1a1a1a" stroke-width="1.4"/>
<text x="480.10" y="382.70" font-family='"Liberation Sans", sans-serif' font-size="14" text-anchor="middle" font-weight="normal" fill="#1a1a1a" stroke="#1a1a1a" stroke-width="0.25" >a</text>
<text x="476.71" y="383.90" font-family='"Liberation Sans", sans-serif' font-size="16" text-anchor="end" font-weight="normal" fill="#1a1a1a" stroke="#1a1a1a" stroke-width="0.25" >(</text>
<text x="483.49" y="383.90" font-family='"Liberation Sans", sans-serif' font-size="16" text-anchor="start" font-weight="normal" fill="#1a1a1a" stroke="#1a1a1a" stroke-width="0.25" >)</text>
<text x="479.60" y="414.50" font-family='"Liberation Sans", sans-serif' font-size="14" text-anchor="middle" font-weight="normal" fill="#1a1a1a" stroke="#1a1a1a" stroke-width="0.25" >b</text>
<text x="476.21" y="415.70" font-family='"Liberation Sans", sans-serif' font-size="16" text-anchor="end" font-weight="normal" fill="#1a1a1a" stroke="#1a1a1a" stroke-width="0.25" >(</text>
<text x="482.99" y="415.70" font-family='"Liberation Sans", sans-serif' font-size="16" text-anchor="start" font-weight="normal" fill="#1a1a1a" stroke="#1a1a1a" stroke-width="0.25" >)</text>
<text x="479.70" y="467.80" font-family='"Liberation Sans", sans-serif' font-size="14" text-anchor="middle" font-weight="normal" fill="#1a1a1a" stroke="#1a1a1a" stroke-width="0.25" >c</text>
<text x="476.70" y="469.00" font-family='"Liberation Sans", sans-serif' font-size="16" text-anchor="end" font-weight="normal" fill="#1a1a1a" stroke="#1a1a1a" stroke-width="0.25" >(</text>
<text x="482.70" y="469.00" font-family='"Liberation Sans", sans-serif' font-size="16" text-anchor="start" font-weight="normal" fill="#1a1a1a" stroke="#1a1a1a" stroke-width="0.25" >)</text>
</svg>
</body></html>
